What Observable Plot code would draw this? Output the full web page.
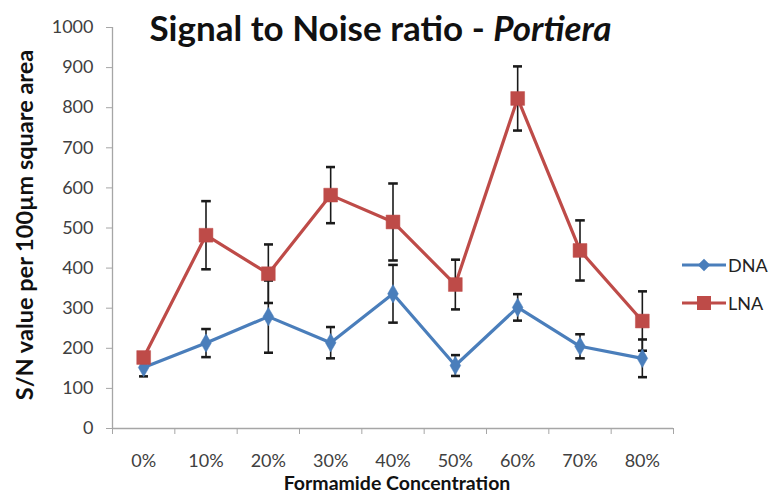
<!DOCTYPE html>
<html>
<head>
<meta charset="utf-8">
<script src="https://cdn.jsdelivr.net/npm/d3@7"></script>
<script src="https://cdn.jsdelivr.net/npm/@observablehq/plot@0.6"></script>
<style>
  body { margin: 0; background: #fff; }
  #wrap { position: relative; width: 769px; height: 496px; font-family: Lato, "Open Sans", sans-serif; }
  #title { position: absolute; left: 0; width: 769px; top: 6px; text-align: center; font-weight: bold; font-size: 35px; color: #111; }
  #title .inner { position: relative; left: -4px; }
  #legend { position: absolute; left: 682px; top: 246px; font-size: 18px; color: #222; }
  #legend .row { display: flex; align-items: center; height: 38px; }
</style>
</head>
<body>
<div id="wrap">
  <div id="title"><span class="inner">Signal to Noise ratio - <i>Portiera</i></span></div>
  <div id="chart"></div>
  <div id="legend"></div>
</div>
<script>
const categories = ["0%", "10%", "20%", "30%", "40%", "50%", "60%", "70%", "80%"];
const dnaMean = [152, 213, 279, 214, 336, 157, 302, 205, 175];
const dnaErr  = [22, 35, 90, 39, 72, 26, 33, 30, 47];
const lnaMean = [177, 482, 386, 582, 515, 359, 823, 444, 268];
const lnaErr  = [12, 85, 73, 70, 96, 62, 80, 75, 74];
const yTicks = d3.range(0, 1001, 100);
const seriesNames = ["DNA", "LNA"];
const seriesColors = ["#4a7ebb", "#be4b48"];

const rows = [];
categories.forEach((c, i) => {
  rows.push({series: "DNA", i, cat: c, v: dnaMean[i], e: dnaErr[i]});
  rows.push({series: "LNA", i, cat: c, v: lnaMean[i], e: lnaErr[i]});
});
const dna = rows.filter(d => d.series === "DNA");
const lna = rows.filter(d => d.series === "LNA");
const idx = d3.range(categories.length);
const bounds = d3.range(categories.length + 1).map(k => k - 0.5);

const axisGray = "#a6a6a6";
const chart = Plot.plot({
  width: 769,
  height: 496,
  marginLeft: 112,
  marginRight: 96,
  marginTop: 27,
  marginBottom: 68,
  style: {fontFamily: "Lato, 'Open Sans', sans-serif", background: "transparent"},
  x: {type: "linear", domain: [-0.5, categories.length - 0.5], axis: null},
  y: {domain: [0, 1000], axis: null},
  marks: [
    Plot.ruleX([-0.5], {stroke: axisGray, strokeWidth: 1.3}),
    Plot.ruleY([0], {stroke: axisGray, strokeWidth: 1.3}),
    Plot.axisY(yTicks, {label: null, tickSize: 6, tickPadding: 13, stroke: axisGray, color: "#404040", fontSize: 18, tickFormat: d => String(d)}),
    Plot.axisX(bounds, {label: null, tickSize: 6, stroke: axisGray, tickFormat: () => ""}),
    Plot.axisX(idx, {label: null, tickSize: 0, tickPadding: 26, color: "#404040", fontSize: 18, tickFormat: i => categories[i]}),
    Plot.link(rows, {x1: "i", x2: "i", y1: d => d.v - d.e, y2: d => d.v + d.e, stroke: "#1a1a1a", strokeWidth: 1.6, marker: "tick"}),
    Plot.line(dna, {x: "i", y: "v", stroke: seriesColors[0], strokeWidth: 3.2}),
    Plot.line(lna, {x: "i", y: "v", stroke: seriesColors[1], strokeWidth: 3.2}),
    Plot.dot(dna, {x: "i", y: "v", symbol: "diamond", r: 5.6, fill: seriesColors[0], stroke: seriesColors[0], strokeWidth: 0.5}),
    Plot.dot(lna, {x: "i", y: "v", symbol: "square", r: 7.8, fill: seriesColors[1], stroke: seriesColors[1], strokeWidth: 0.5}),
    Plot.text(["S/N value per 100µm square area"], {frameAnchor: "left", textAnchor: "middle", rotate: -90, dx: -87, dy: -3, fontSize: 23.5, fontWeight: "bold", fill: "#111"}),
    Plot.text(["Formamide Concentration"], {frameAnchor: "bottom", dy: 61, dx: 4, fontSize: 19.5, fontWeight: "bold", fill: "#111"})
  ]
});
document.getElementById("chart").appendChild(chart);

// legend
const leg = d3.select("#legend");
seriesNames.forEach((name, k) => {
  const row = leg.append("div").attr("class", "row");
  const s = row.append("svg").attr("width", 44).attr("height", 20);
  s.append("line").attr("x1", 0).attr("x2", 44).attr("y1", 10).attr("y2", 10)
    .attr("stroke", seriesColors[k]).attr("stroke-width", 3.2);
  if (k === 0) {
    s.append("path").attr("d", d3.symbol(d3.symbolDiamond2, 100)()).attr("transform", "translate(22,10)").attr("fill", seriesColors[k]);
  } else {
    s.append("rect").attr("x", 15).attr("y", 3).attr("width", 14).attr("height", 14).attr("fill", seriesColors[k]);
  }
  row.append("span").style("margin-left", "2px").text(name);
});
</script>
</body>
</html>
